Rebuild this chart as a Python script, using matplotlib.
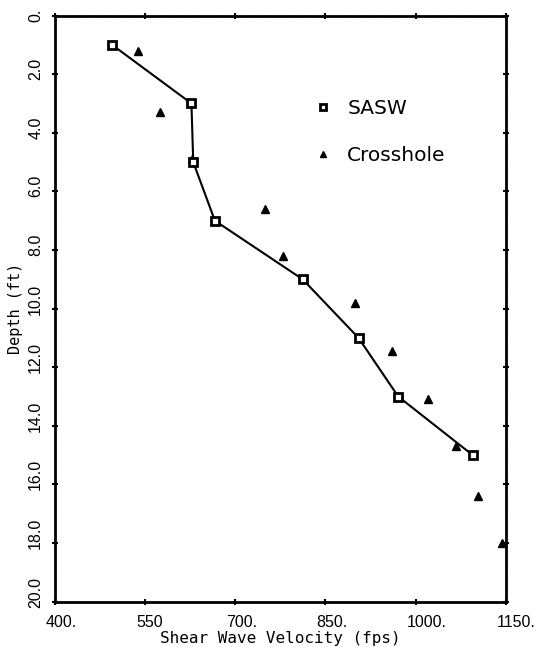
import matplotlib
matplotlib.use('Agg')
import matplotlib.pyplot as plt
from matplotlib.lines import Line2D
from matplotlib.ticker import AutoMinorLocator
from matplotlib.transforms import ScaledTranslation

# SASW profile
sasw_vel = [495, 627, 630, 666, 812, 905, 971, 1095]
sasw_depth = [1.0, 3.0, 5.0, 7.0, 9.0, 11.0, 13.0, 15.0]

# crosshole measurements
cross_vel = [538, 574, 628, 749, 780, 899, 960, 1020, 1067, 1103, 1143]
cross_depth = [1.2, 3.3, 4.9, 6.6, 8.2, 9.8, 11.45, 13.1, 14.7, 16.4, 18.0]

x_ticks = [400, 550, 700, 850, 1000, 1150]
x_labels = ['400.', '550', '700.', '850.', '1000.', '1150.']
y_ticks = [0, 2, 4, 6, 8, 10, 12, 14, 16, 18, 20]
y_labels = ['0.', '2.0', '4.0', '6.0', '8.0', '10.0', '12.0', '14.0', '16.0', '18.0', '20.0']

tick_font = 'Liberation Sans'

fig = plt.figure(figsize=(5.38, 6.47), dpi=100)
ax = fig.add_axes([0.1022, 0.070, 0.838, 0.906])

ax.plot(sasw_vel, sasw_depth, color='black', lw=1.5, marker='s', ms=6,
        mfc='white', mec='black', mew=2, zorder=3)
ax.plot(cross_vel, cross_depth, linestyle='none', marker='^', ms=6,
        color='black', zorder=2)

ax.set_xlim(400, 1150)
ax.set_ylim(20, 0)
ax.set_xticks(x_ticks)
ax.set_xticklabels(x_labels, ha='left', family=tick_font, fontsize=11.5)
ax.set_yticks(y_ticks)
ax.set_yticklabels(y_labels, rotation=90, va='bottom', family=tick_font,
                   fontsize=11.5)
ax.xaxis.set_minor_locator(AutoMinorLocator(5))
ax.yaxis.set_minor_locator(AutoMinorLocator(5))
ax.tick_params(which='major', direction='inout', length=5, width=1.5,
               top=True, right=True)
ax.tick_params(which='minor', direction='inout', length=2, width=0.8,
               top=True, right=True)
ax.tick_params(axis='x', pad=7)
ax.tick_params(axis='y', pad=6)

# shift labels: x labels start a little left of tick, y labels a little below
dx = ScaledTranslation(-9 / 100, 0, fig.dpi_scale_trans)
for lab in ax.get_xticklabels():
    lab.set_transform(lab.get_transform() + dx)
dy = ScaledTranslation(0, -6 / 100, fig.dpi_scale_trans)
for lab in ax.get_yticklabels():
    lab.set_transform(lab.get_transform() + dy)

for s in ax.spines.values():
    s.set_linewidth(2)

ax.set_xlabel('Shear Wave Velocity (fps)', family='DejaVu Sans Mono',
              fontsize=11.5)
ax.xaxis.set_label_coords(0.5, -0.050)
ax.set_ylabel('Depth (ft)', family='DejaVu Sans Mono', fontsize=11)
ax.yaxis.set_label_coords(-0.071, 0.5)

handles = [Line2D([], [], linestyle='none', marker='s', ms=5, mfc='white',
                  mec='black', mew=2),
           Line2D([], [], linestyle='none', marker='^', ms=5, color='black')]
ax.legend(handles, ['SASW', 'Crosshole'], loc='upper left',
          bbox_to_anchor=(0.55, 0.875), frameon=False,
          prop={'family': 'DejaVu Sans', 'size': 14.5},
          handlelength=1, handletextpad=0.7, labelspacing=1.4, borderpad=0)

fig.savefig('out.png', dpi=100)
